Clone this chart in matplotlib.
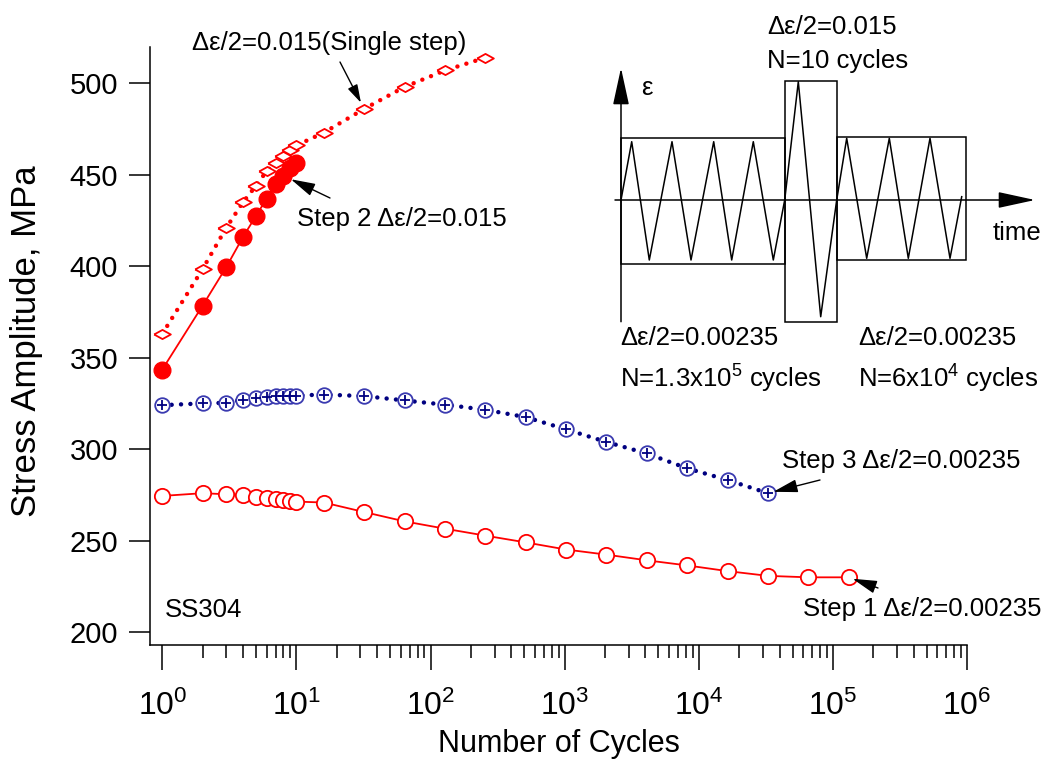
import matplotlib
matplotlib.use('Agg')
import matplotlib.pyplot as plt
from matplotlib.path import Path
from matplotlib.patches import Rectangle
from matplotlib.ticker import FixedLocator, NullFormatter, LogFormatterSciNotation

plt.rcParams['font.family'] = ['Liberation Sans', 'DejaVu Sans']
plt.rcParams['mathtext.fontset'] = 'custom'
plt.rcParams['mathtext.rm'] = 'Liberation Sans'
plt.rcParams['mathtext.it'] = 'Liberation Sans:italic'
plt.rcParams['mathtext.bf'] = 'Liberation Sans:bold'

## values
# Step 1, d_eps/2 = 0.00235 (open red circles)
cycles_step1 = [1, 2, 3, 4, 5, 6, 7, 8, 9, 10, 16, 32, 64, 128, 256, 512, 1024,
                2048, 4096, 8192, 16384, 32768, 65536, 131072]
stress_step1 = [274.4, 275.9, 275.3, 275.0, 274.0, 273.2, 272.6, 272.2, 271.8, 271.3,
                270.8, 265.6, 260.5, 256.5, 252.7, 249.0, 245.1, 242.3, 239.2, 236.4,
                233.3, 230.7, 229.9, 229.9]

# Step 3, d_eps/2 = 0.00235 (blue circle-plus)
cycles_step3 = [1, 2, 3, 4, 5, 6, 7, 8, 9, 10, 16, 32, 64, 128, 256, 512, 1024,
                2048, 4096, 8192, 16384, 32768]
stress_step3 = [324.0, 325.0, 325.3, 327.0, 328.0, 328.4, 328.8, 329.2, 329.3, 329.3,
                329.8, 329.0, 326.6, 324.3, 321.5, 317.5, 310.8, 303.9, 297.6, 289.5,
                283.1, 275.9]

# Step 2, d_eps/2 = 0.015 (filled red circles)
cycles_step2 = [1, 2, 3, 4, 5, 6, 7, 8, 9, 10]
stress_step2 = [343.5, 378.5, 399.5, 416.0, 427.5, 437.0, 445.0, 449.5, 453.5, 456.5]

# single step, d_eps/2 = 0.015 (open red diamonds)
cycles_single = [1, 2, 3, 4, 5, 6, 7, 8, 9, 10, 16, 32, 64, 128, 256]
stress_single = [363.0, 398.5, 421.0, 435.0, 444.0, 452.0, 456.5, 460.5, 463.5, 466.0,
                 473.0, 486.0, 498.0, 507.0, 514.0]

y_ticks = [200, 250, 300, 350, 400, 450, 500]
x_decades = [1, 10, 100, 1000, 10000, 100000, 1000000]

## loading schematic (drawn in figure pixels)
zig_x = [621, 631.7, 649.3, 672, 691, 713.7, 731.7, 753.3, 773.3, 784.7, 798.3, 820.7,
         836.7, 846.7, 866.7, 889.3, 908.3, 930, 950, 961.7]
zig_y = [200, 141.7, 260, 141.7, 260, 141.7, 260, 141.7, 260, 200, 81.7, 316.7,
         200, 138.3, 258.3, 138.3, 258.3, 138.3, 258.3, 196.7]
boxes = [(621, 137.7, 163.7, 126.3), (784.7, 81, 52, 240.7), (836.7, 136.7, 129.3, 123.3)]

W, H = 1044, 774
fig = plt.figure(figsize=(W / 100, H / 100), dpi=100)
ax = fig.add_axes([150 / W, 1 - 645 / H, (967 - 150) / W, (645 - 46.7) / H])

# step 1
ax.plot(cycles_step1, stress_step1, '-', color='red', lw=1.3, marker='o', ms=11,
        mfc='white', mec='red', mew=1.3)

# step 3
ax.plot(cycles_step3, stress_step3, color='#000080', lw=3.2, ls=(0, (0.01, 2.1)),
        dash_capstyle='round')
ax.plot(cycles_step3, stress_step3, ls='none', marker='o', ms=10.5, mfc='white',
        mec='#3a3ab0', mew=1.3)
ax.plot(cycles_step3, stress_step3, ls='none', marker='+', ms=7, mec='#000080', mew=1.3)

# single step
diamond = Path([(-1, 0), (0, 0.55), (1, 0), (0, -0.55), (-1, 0)])
ax.plot(cycles_single, stress_single, color='red', lw=3.2, ls=(0, (0.01, 2.1)),
        dash_capstyle='round')
ax.plot(cycles_single, stress_single, ls='none', marker=diamond, ms=12, mfc='white',
        mec='red', mew=1.3)

# step 2
ax.plot(cycles_step2, stress_step2, '-', color='red', lw=1.3, marker='o', ms=12,
        mfc='red', mec='red')

## axes formatting
ax.set_xscale('log')
ax.set_xlim(0.81, 1e6)
ax.set_ylim(192.9, 520)
ax.xaxis.set_major_locator(FixedLocator(x_decades))
ax.xaxis.set_major_formatter(LogFormatterSciNotation())
ax.xaxis.set_minor_locator(FixedLocator([m * d for d in x_decades[:-1] for m in range(2, 10)]))
ax.xaxis.set_minor_formatter(NullFormatter())
ax.set_yticks(y_ticks)

for side in ['top', 'right']:
    ax.spines[side].set_visible(False)
for side in ['left', 'bottom']:
    ax.spines[side].set_linewidth(1.1)

ax.tick_params(axis='x', which='major', length=18, width=1.1, pad=15, labelsize=23)
ax.tick_params(axis='x', which='minor', length=9.5, width=1.1)
ax.tick_params(axis='y', which='major', length=15, width=1.1, pad=8, labelsize=21)

ax.set_xlabel('Number of Cycles', fontsize=22, labelpad=5)
ax.set_ylabel('Stress Amplitude, MPa', fontsize=25)
ax.yaxis.set_label_coords(-0.131, 0.508)

## overlay in figure pixels for the annotations and the schematic
over = fig.add_axes([0, 0, 1, 1], zorder=3)
over.set_xlim(0, W)
over.set_ylim(H, 0)
over.axis('off')

fs = 18.5
over.text(192, 50, 'Δε/2=0.015(Single step)', fontsize=fs, va='baseline')
over.text(297, 226, 'Step 2 Δε/2=0.015', fontsize=fs, va='baseline')
over.text(782, 468, 'Step 3 Δε/2=0.00235', fontsize=fs, va='baseline')
over.text(803, 616, 'Step 1 Δε/2=0.00235', fontsize=fs, va='baseline')
over.text(165, 617, 'SS304', fontsize=fs, va='baseline')

small_arrow = dict(arrowstyle='-|>,head_length=0.55,head_width=0.16', color='black',
                   lw=1.0, shrinkA=0, mutation_scale=20)
step_arrow = dict(arrowstyle='-|>,head_length=0.75,head_width=0.2', color='black',
                  lw=1.0, shrinkA=0, mutation_scale=20)
over.annotate('', xy=(cycles_single[11], stress_single[11]), xycoords=ax.transData,
              xytext=(340, 62), textcoords='data', arrowprops=dict(small_arrow, shrinkB=5))
over.annotate('', xy=(cycles_step2[7], stress_step2[7]), xycoords=ax.transData,
              xytext=(330, 198), textcoords='data', arrowprops=dict(step_arrow, shrinkB=6))
over.annotate('', xy=(cycles_step3[-1], stress_step3[-1]), xycoords=ax.transData,
              xytext=(820, 480), textcoords='data', arrowprops=dict(step_arrow, shrinkB=4))
over.annotate('', xy=(cycles_step1[-1], stress_step1[-1]), xycoords=ax.transData,
              xytext=(878, 588), textcoords='data', arrowprops=dict(step_arrow, shrinkB=3))

# schematic
big_arrow = dict(arrowstyle='-|>,head_length=2.3,head_width=0.5', color='black',
                 lw=1.1, shrinkA=0, shrinkB=0, mutation_scale=10)
over.annotate('', xy=(621, 68), xytext=(621, 321.7), arrowprops=big_arrow)
over.annotate('', xy=(1035, 200), xytext=(615, 200), arrowprops=big_arrow)
for bx, by, bw, bh in boxes:
    over.add_patch(Rectangle((bx, by), bw, bh, fill=False, lw=1.1, ec='black'))
over.plot(zig_x, zig_y, color='black', lw=1.1)

over.text(641, 95, 'ε', fontsize=fs, va='baseline')
over.text(993, 240, 'time', fontsize=fs, va='baseline')
over.text(767, 34, 'Δε/2=0.015', fontsize=fs, va='baseline')
over.text(767, 68, 'N=10 cycles', fontsize=fs, va='baseline')
over.text(620, 345, 'Δε/2=0.00235', fontsize=fs, va='baseline')
over.text(620, 388, 'N=1.3x10$^5$ cycles', fontsize=fs, va='baseline')
over.text(858, 345, 'Δε/2=0.00235', fontsize=fs, va='baseline')
over.text(858, 388, 'N=6x10$^4$ cycles', fontsize=fs, va='baseline')

fig.savefig('out.png', dpi=100)
